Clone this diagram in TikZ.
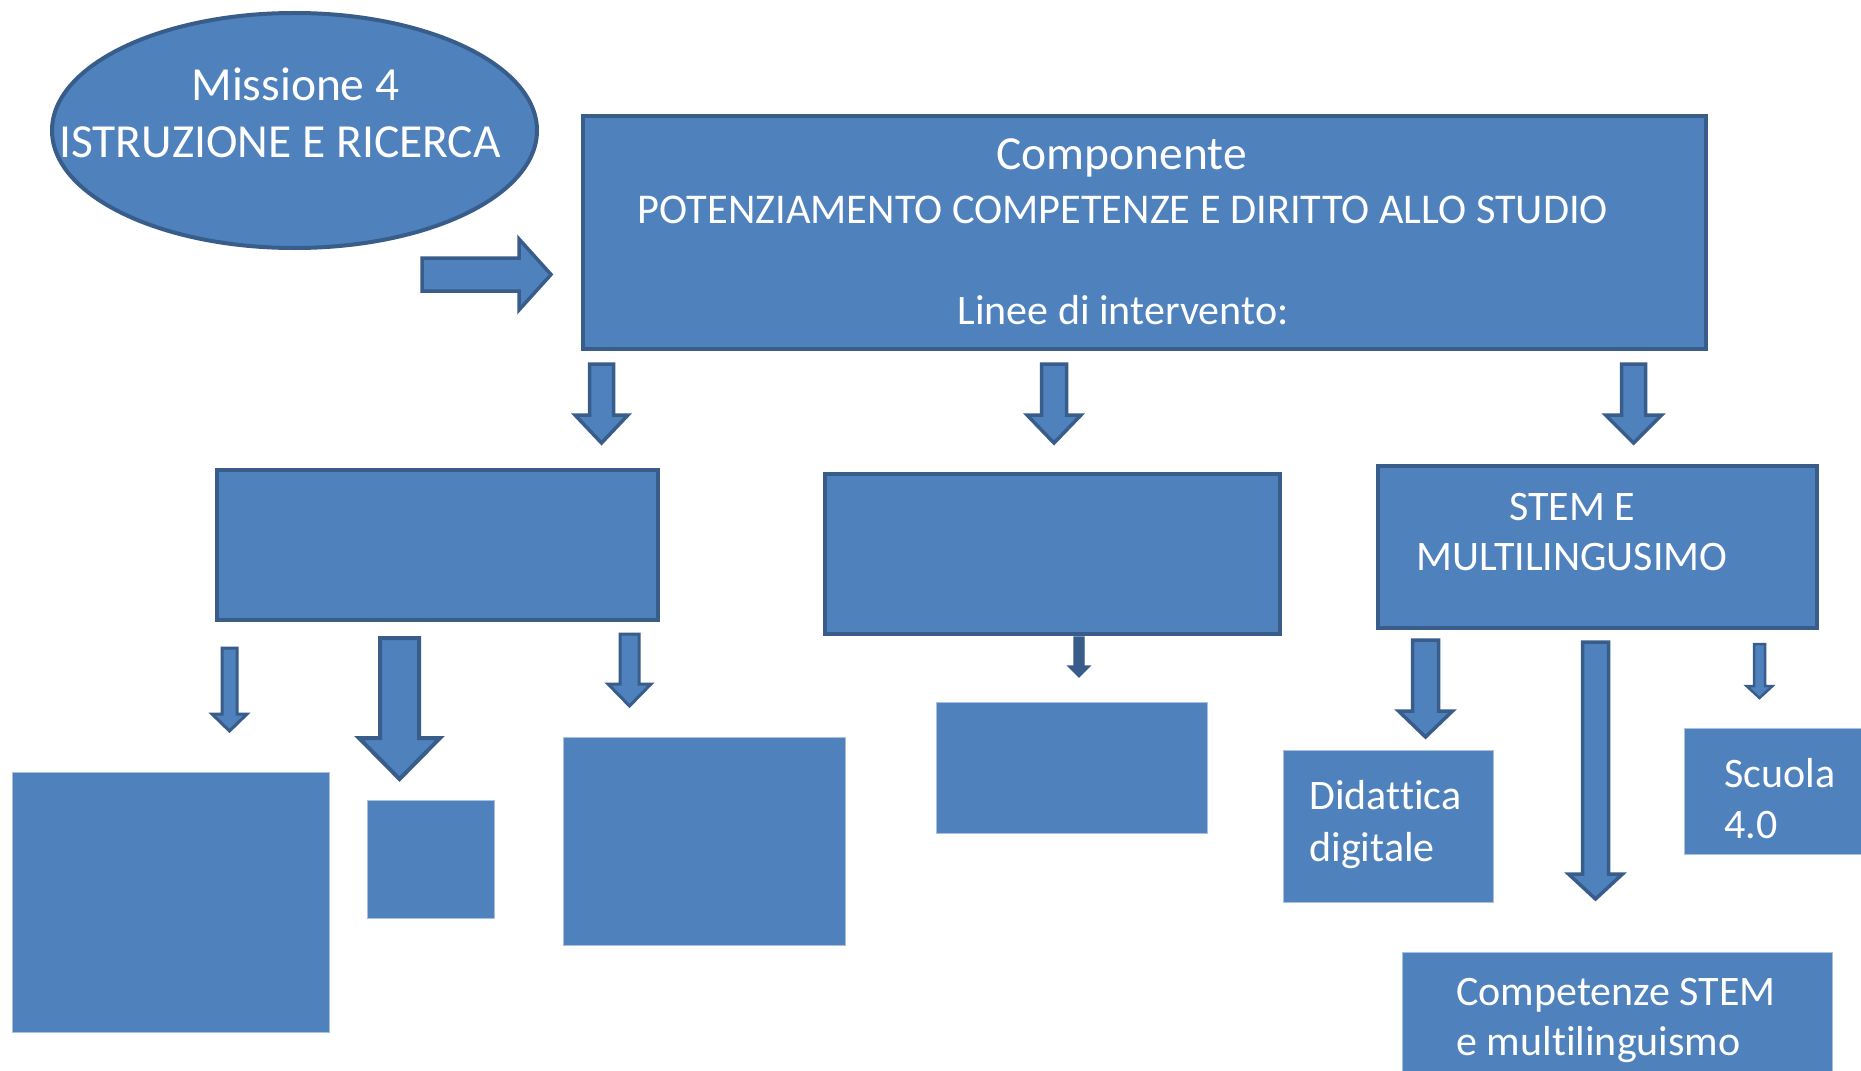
\documentclass[tikz,border=0pt]{standalone}
\usepackage{fontspec}
\setmainfont{Carlito}[Ligatures={NoCommon,NoContextual}]
\usetikzlibrary{shapes.geometric}
\definecolor{fillblue}{HTML}{4F81BD}
\definecolor{edgeblue}{HTML}{385D8A}
\definecolor{paleedge}{HTML}{A9C0DE}
% down block arrow: cx, top, shaft half width, head base, head half width, tip, line width
\newcommand\downblock[7]{\filldraw[blockarrow,line width=#7] (#1-#3,#2) -- (#1+#3,#2) -- (#1+#3,#4) -- (#1+#5,#4) -- (#1,#6) -- (#1-#5,#4) -- (#1-#3,#4) -- cycle;}
\begin{document}
\begin{tikzpicture}[x=0.5pt,y=-0.5pt,
  box/.style={draw=edgeblue, fill=fillblue, line width=2pt, inner sep=0pt, anchor=north west},
  plainbox/.style={draw=paleedge, line width=0.5pt, fill=fillblue, inner sep=0pt, anchor=north west},
  blockarrow/.style={draw=edgeblue, fill=fillblue, line join=miter},
  bigtxt/.style={text=white, font=\fontsize{23.75}{28}\selectfont, inner sep=0pt, anchor=base},
  txt/.style={text=white, font=\fontsize{21}{25}\selectfont, inner sep=0pt, anchor=base},
  ltxt/.style={txt, anchor=base west}]
\clip (0,0) rectangle (1861,1070);
\fill[white] (0,0) rectangle (1861,1070);

% top ellipse
\node[ellipse, draw=edgeblue, fill=fillblue, line width=2pt, inner sep=0pt,
      minimum width=242.5pt, minimum height=117.5pt] (mission) at (294.5,130.5) {};
\node[bigtxt] (missionA) at (295.5,101) {Missione 4};
\node[bigtxt] (missionB) at (280,157) {ISTRUZIONE E RICERCA};

% right block arrow
\filldraw[blockarrow, line width=1.75pt] (422,258) -- (519,258) -- (519,239) -- (551,274.5) -- (519,310) -- (519,291) -- (422,291) -- cycle;

% component box
\node[box, minimum width=561.5pt, minimum height=116.5pt] (comp) at (581,114) {};
\node[bigtxt] (compA) at (1121.6,169) {Componente};
\node[txt, font=\fontsize{21.2}{25}\selectfont] (compB) at (1123,223) {POTENZIAMENTO COMPETENZE E DIRITTO ALLO STUDIO};
\node[txt] (compC) at (1123,324) {Linee di intervento:};

% arrows from component
\downblock{601.5}{364}{12}{415}{26.5}{443}{1.75pt}
\downblock{1054}{364}{12.5}{415}{27}{443}{1.75pt}
\downblock{1633.5}{364}{12}{415}{28}{443}{1.75pt}

% second level boxes
\node[box, minimum width=220.5pt, minimum height=75pt] (lineA) at (215,468) {};
\node[box, minimum width=227.5pt, minimum height=80pt] (lineB) at (823,472) {};
\node[box, minimum width=219.5pt, minimum height=81pt] (lineC) at (1376,464) {};
\node[txt] (lineCa) at (1572,520) {STEM E};
\node[txt] (lineCb) at (1572,570) {MULTILINGUSIMO};

% arrows under first box
\downblock{229.5}{648}{7.5}{714}{17.5}{731}{1.5pt}
\downblock{399.5}{638}{19.5}{738}{40.5}{779}{2pt}
\downblock{629.5}{634}{9.5}{684}{21.5}{706}{1.5pt}

% arrow under second box
\filldraw[draw=edgeblue, fill=edgeblue, line width=0.6pt, line join=miter]
  (1074,637) -- (1084,637) -- (1084,666) -- (1090,666) -- (1079,677) -- (1068,666) -- (1074,666) -- cycle;

% arrows under STEM box
\downblock{1425.5}{640}{13}{711}{27}{737}{1.75pt}
\downblock{1595.5}{642}{13}{874}{27}{899}{1.75pt}
\downblock{1759.5}{644}{5.5}{686}{13}{698}{1.25pt}

% third level boxes
\node[plainbox, minimum width=158.5pt, minimum height=130pt] (leafA) at (12,772) {};
\node[plainbox, minimum width=63.5pt, minimum height=59pt] (leafB) at (367,800) {};
\node[plainbox, minimum width=141pt, minimum height=104pt] (leafC) at (563,737) {};
\node[plainbox, minimum width=135.5pt, minimum height=65.5pt] (leafD) at (936,702) {};
\node[plainbox, minimum width=105pt, minimum height=76pt] (leafE) at (1283,750) {};
\node[plainbox, minimum width=215pt, minimum height=80pt] (leafF) at (1402,952) {};
\node[plainbox, minimum width=100pt, minimum height=63pt] (leafG) at (1684,728) {};

\node[ltxt] (leafEa) at (1309,809) {Didattica};
\node[ltxt] (leafEb) at (1309,861) {digitale};
\node[ltxt] (leafFa) at (1456,1005) {Competenze STEM};
\node[ltxt] (leafFb) at (1456,1055) {e multilinguismo};
\node[ltxt] (leafGa) at (1724,787) {Scuola};
\node[ltxt] (leafGb) at (1724,838) {4.0};
\end{tikzpicture}
\end{document}
